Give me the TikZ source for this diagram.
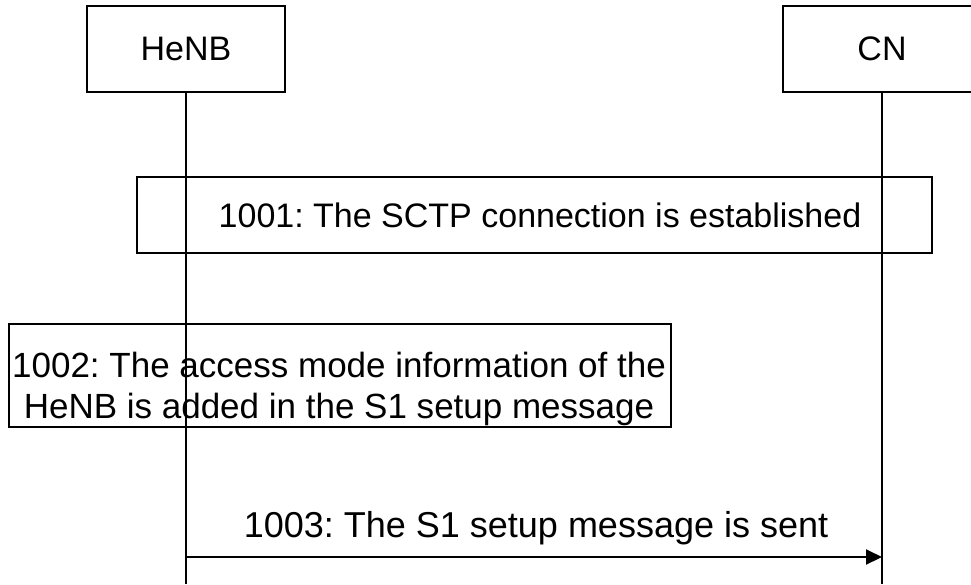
\documentclass[tikz,border=0pt]{standalone}
\usepackage{fontspec}
\setmainfont{Liberation Sans}
\usetikzlibrary{arrows.meta}
\frenchspacing
\begin{document}
\begin{tikzpicture}[x=1pt,y=-1pt,
  every node/.style={font=\fontsize{34}{41}\selectfont},
  entity/.style={draw,line width=2pt,minimum width=198pt,minimum height=86pt,inner sep=0pt},
  stepbox/.style={draw,line width=2pt,inner sep=0pt,align=center},
  lifeline/.style={line width=2pt},
  msgline/.style={line width=2pt,-{Triangle[length=16pt,width=15pt]}}]
  \useasboundingbox (0,0) rectangle (971,584);
  \clip (0,0) rectangle (971,584);
  % entities
  \node[entity] (henb) at (186,49) {HeNB};
  \node[entity] (cn) at (882,49) {CN};
  % processing steps
  \node[stepbox,minimum width=795pt,minimum height=76pt] (s1001) at (534.5,215) {};
  \node (s1001text) at (540,215) {1001: The SCTP connection is established};
  \node[stepbox,minimum width=662pt,minimum height=103pt] (s1002) at (340,375.5) {};
  \node[align=center,font=\fontsize{35}{41}\selectfont] (s1002text) at (339,389)
    {1002: The access mode information of the\\HeNB is added in the S1 setup message};
  % lifelines
  \coordinate (bottom) at (0,584);
  \draw[lifeline] (henb.south) -- (henb.south |- bottom);
  \draw[lifeline] (cn.south) -- (cn.south |- bottom);
  % message
  \coordinate (msgy) at (0,557);
  \draw[msgline] (henb.south |- msgy) -- (cn.south |- msgy);
  \node[font=\fontsize{36}{43}\selectfont] (m1003) at (536,528) {1003: The S1 setup message is sent};
\end{tikzpicture}
\end{document}
